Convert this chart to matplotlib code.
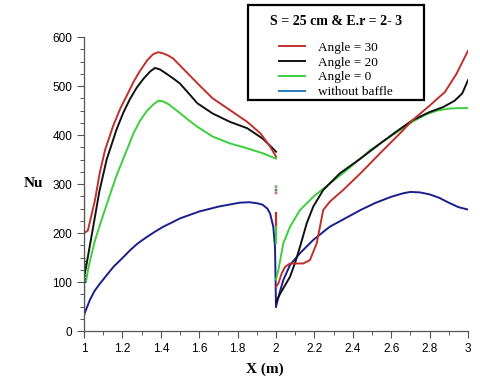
import numpy as np
import matplotlib.pyplot as plt
from matplotlib.lines import Line2D
from matplotlib.patches import Rectangle
from matplotlib.ticker import MultipleLocator

# Angle = 30
red_x1 = [1.0, 1.02, 1.057, 1.083, 1.11, 1.153, 1.19, 1.222, 1.26, 1.29, 1.33, 1.36, 1.385, 1.41, 1.44,
          1.465, 1.5, 1.55, 1.6, 1.67, 1.76, 1.85, 1.92, 1.97, 2.0]
red_y1 = [200, 205, 267, 325, 370, 420, 455, 480, 510, 530, 553, 565, 569, 567, 562,
          556, 542, 522, 502, 475, 451, 427, 403, 376, 356]
red_x2 = [2.0, 2.012, 2.03, 2.047, 2.073, 2.11, 2.142, 2.177, 2.212, 2.229, 2.246, 2.28, 2.35, 2.44,
          2.55, 2.65, 2.71, 2.8, 2.88, 2.94, 3.0]
red_y2 = [90, 97, 118, 131, 138, 138, 138, 145, 179, 213, 247, 264, 288, 322,
          366, 405, 430, 460, 488, 525, 572]
# Angle = 20
blk_x1 = [1.0, 1.014, 1.048, 1.08, 1.118, 1.17, 1.205, 1.24, 1.275, 1.31, 1.345, 1.37, 1.395, 1.43,
          1.47, 1.5, 1.55, 1.59, 1.67, 1.76, 1.85, 1.93, 1.97, 2.0]
blk_y1 = [110, 138, 213, 285, 350, 412, 446, 474, 497, 515, 530, 537, 534, 525,
          514, 505, 483, 465, 444, 427, 414, 393, 378, 366]
blk_x2 = [2.0, 2.02, 2.045, 2.073, 2.1, 2.125, 2.16, 2.194, 2.246, 2.333, 2.44, 2.55, 2.63, 2.71,
          2.8, 2.87, 2.93, 2.97, 3.0]
blk_y2 = [60, 75, 92, 111, 140, 172, 220, 254, 288, 322, 352, 385, 408, 430,
          447, 457, 470, 485, 512]
# Angle = 0
grn_x1 = [1.01, 1.022, 1.057, 1.09, 1.135, 1.17, 1.205, 1.257, 1.29, 1.327, 1.36, 1.387, 1.41, 1.44,
          1.48, 1.54, 1.59, 1.67, 1.76, 1.85, 1.93, 2.0]
grn_y1 = [100, 128, 185, 225, 278, 318, 352, 403, 428, 449, 462, 470, 469, 463,
          451, 432, 417, 397, 383, 373, 363, 352]
grn_x2 = [2.0, 2.012, 2.038, 2.073, 2.125, 2.194, 2.28, 2.37, 2.49, 2.6, 2.71, 2.78, 2.84, 2.9, 2.95, 3.0]
grn_y2 = [105, 124, 179, 213, 247, 274, 301, 329, 369, 398, 427, 442, 450, 454, 455, 455]
# without baffle
blu_x1 = [1.0, 1.03, 1.055, 1.083, 1.12, 1.153, 1.2, 1.24, 1.28, 1.327, 1.37, 1.413, 1.46, 1.5,
          1.6, 1.7, 1.81, 1.86, 1.9, 1.93, 1.955, 1.969, 1.986, 1.995, 2.0]
blu_y1 = [33, 63, 82, 97, 115, 131, 149, 165, 179, 192, 203, 213, 222, 230,
          244, 254, 262, 263, 261, 258, 250, 240, 213, 170, 50]
blu_x2 = [2.0, 2.02, 2.038, 2.073, 2.125, 2.194, 2.28, 2.36, 2.44, 2.52, 2.6, 2.66, 2.7, 2.75,
          2.8, 2.85, 2.9, 2.95, 3.0]
blu_y2 = [50, 80, 104, 135, 159, 186, 213, 230, 247, 262, 274, 281, 284, 283,
          279, 272, 262, 253, 248]

# short vertical bits at the inlet and at x = 2
red_v1 = [200, 292]
grn_v1 = [145, 200]
blu_v1 = [35, 110]
blk_v1 = [100, 150]
red_v2 = [212, 240]
grn_v2 = [180, 213]
dots_y = [282, 288, 295]

labels = ['Angle = 30', 'Angle = 20', 'Angle = 0', 'without baffle']
c_red, c_blk, c_grn, c_blu = '#c0302c', '#111111', '#3ccf3c', '#1a1f8a'

fig = plt.figure(figsize=(4.8, 3.9), dpi=100)
ax = fig.add_axes([0.175, 0.151, 0.8, 0.754])

lw = 1.4
ax.plot(blu_x1, blu_y1, c=c_blu, lw=lw)
ax.plot(blu_x2, blu_y2, c=c_blu, lw=lw)
ax.plot(grn_x1, grn_y1, c=c_grn, lw=lw)
ax.plot(grn_x2, grn_y2, c=c_grn, lw=lw)
ax.plot(blk_x1, blk_y1, c=c_blk, lw=lw)
ax.plot(blk_x2, blk_y2, c=c_blk, lw=lw)
ax.plot(red_x1, red_y1, c=c_red, lw=lw)
ax.plot(red_x2, red_y2, c=c_red, lw=lw)

ax.plot([1.0, 1.0], red_v1, c=c_red, lw=1.6)
ax.plot([1.0, 1.0], grn_v1, c=c_grn, lw=1.6)
ax.plot([1.0, 1.0], blu_v1, c=c_blu, lw=1.6)
ax.plot([1.005, 1.005], blk_v1, c=c_blk, lw=0.8, ls=':')
ax.plot([2.0, 2.0], red_v2, c=c_red, lw=1.6)
ax.plot([2.0, 2.0], grn_v2, c=c_grn, lw=1.6)
ax.scatter([2.0] * len(dots_y), dots_y, s=1.5, c=['#c08080', '#808080', '#80b080'])

ax.set_xlim(1, 3)
ax.set_ylim(0, 600)
ax.xaxis.set_major_locator(MultipleLocator(0.2))
ax.xaxis.set_minor_locator(MultipleLocator(0.1))
ax.yaxis.set_major_locator(MultipleLocator(100))
ax.yaxis.set_minor_locator(MultipleLocator(25))
ax.set_xticks(np.arange(1, 3.01, 0.2))
ax.set_xticklabels(['1', '1.2', '1.4', '1.6', '1.8', '2', '2.2', '2.4', '2.6', '2.8', '3'])
for s in ['top', 'right']:
    ax.spines[s].set_visible(False)
for s in ['left', 'bottom']:
    ax.spines[s].set_color('#555555')
    ax.spines[s].set_linewidth(0.9)
ax.tick_params(which='both', colors='#555555', labelcolor='black', labelsize=8.5)
ax.tick_params(which='major', length=5, width=0.8)
ax.tick_params(which='minor', length=3, width=0.7)
for t in ax.get_xticklabels() + ax.get_yticklabels():
    t.set_family('Liberation Sans')

fig.text(0.069, 0.53, 'Nu', family='Liberation Serif', weight='bold', fontsize=11, ha='center', va='center')
fig.text(0.552, 0.052, 'X (m)', family='Liberation Serif', weight='bold', fontsize=11, ha='center', va='center')

handles = [Line2D([], [], c=c, lw=1.4) for c in [c_red, c_blk, c_grn, '#2a7ab8']]
leg = fig.legend(handles, labels, loc='upper center', bbox_to_anchor=(0.70, 0.993),
                 frameon=False, title='S = 25 cm & E.r = 2- 3',
                 prop={'family': 'Liberation Serif', 'size': 9.5},
                 handlelength=2.0, handletextpad=1.0, labelspacing=0.2)
leg.get_title().set_fontproperties({'family': 'Liberation Serif', 'weight': 'bold', 'size': 10})
leg._legend_box.sep = 10
fig.patches.append(Rectangle((0.517, 0.744), 0.366, 0.243, transform=fig.transFigure,
                             fill=False, ec='black', lw=1.6))

fig.savefig('out.png', dpi=100)
